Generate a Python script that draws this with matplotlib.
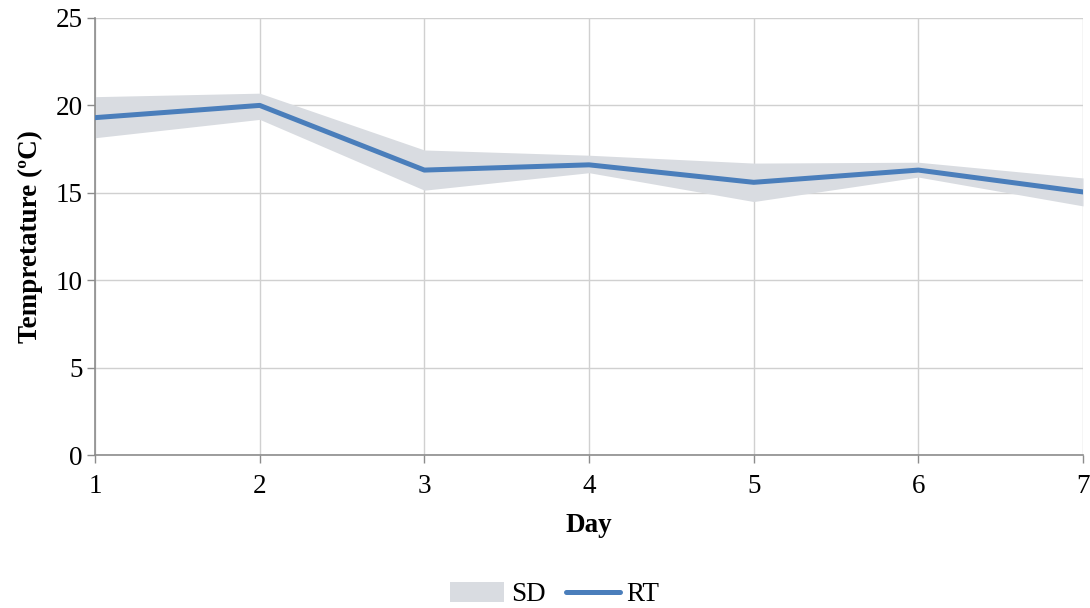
import matplotlib

matplotlib.use("Agg")

import matplotlib.pyplot as plt
from matplotlib.lines import Line2D
from matplotlib.patches import Patch

# daily room temperature with standard deviation band
DAYS = [1, 2, 3, 4, 5, 6, 7]
RT_MEAN = [19.3, 20.0, 16.3, 16.6, 15.6, 16.3, 15.05]
SD_UPPER = [20.5, 20.7, 17.45, 17.15, 16.7, 16.75, 15.85]
SD_LOWER = [18.15, 19.2, 15.15, 16.15, 14.5, 15.9, 14.25]

LINE_COLOR = "#4a7ebb"
BAND_COLOR = "#d9dce1"
GRID_COLOR = "#d0d0d0"
AXIS_COLOR = "#8c8c8c"
FONT_SIZE = 19.5

plt.rcParams["font.family"] = ["Liberation Serif", "DejaVu Serif"]

fig = plt.figure(figsize=(10.9, 6.08), dpi=100)
ax = fig.add_axes([0.0872, 0.2516, 0.9064, 0.7188])

ax.fill_between(DAYS, SD_LOWER, SD_UPPER, color=BAND_COLOR, linewidth=0, zorder=2)
ax.plot(DAYS, RT_MEAN, color=LINE_COLOR, linewidth=3.6, solid_capstyle="round", zorder=3)

ax.set_xlim(1, 7)
ax.set_ylim(0, 25)
ax.set_xticks(DAYS)
ax.set_yticks([0, 5, 10, 15, 20, 25])
ax.grid(True, color=GRID_COLOR, linewidth=1.0, zorder=0)
ax.set_axisbelow(True)

for side in ("top", "right"):
    ax.spines[side].set_visible(False)
for side in ("left", "bottom"):
    ax.spines[side].set_color(AXIS_COLOR)
    ax.spines[side].set_linewidth(1.2)

ax.tick_params(axis="both", direction="out", length=6, width=1.0, color=AXIS_COLOR,
               labelsize=FONT_SIZE)
ax.tick_params(axis="x", pad=8)
ax.tick_params(axis="y", pad=3)

ax.set_xlabel("Day", fontsize=FONT_SIZE, fontweight="bold", labelpad=10)
ax.set_ylabel("Tempretature (ºC)", fontsize=FONT_SIZE, fontweight="bold", labelpad=9)

handles = [
    Patch(facecolor=BAND_COLOR, edgecolor="none", label="SD"),
    Line2D([0], [0], color=LINE_COLOR, linewidth=3.6, solid_capstyle="round", label="RT"),
]
fig.legend(handles=handles, loc="center", bbox_to_anchor=(0.509, 0.022), ncol=2,
           frameon=False, fontsize=FONT_SIZE, handlelength=2.0, handleheight=0.75,
           handletextpad=0.25, columnspacing=0.75)

fig.savefig("out.png", dpi=100)
